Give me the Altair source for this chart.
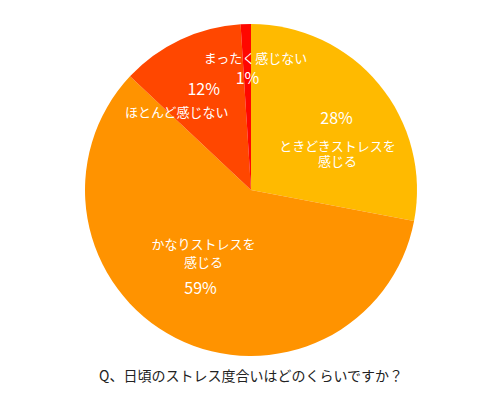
import pandas as pd
import altair as alt

# answers, clockwise from 12 o'clock
CATEGORIES = ["ときどきストレスを感じる", "かなりストレスを感じる", "ほとんど感じない", "まったく感じない"]
VALUES = [28, 59, 12, 1]
COLORS = ["#FFBA00", "#FF9300", "#FF4700", "#FF0800"]
TITLE = "Q、日頃のストレス度合いはどのくらいですか？"
FONT = "Noto Sans CJK JP"

df = pd.DataFrame({
    "cat": CATEGORIES,
    "value": VALUES,
    "idx": list(range(len(CATEGORIES))),
})
df["pct"] = df["value"].astype(str) + "%"

# start/end/mid of every slice as a fraction of the whole
base = (
    alt.Chart(df)
    .transform_joinaggregate(total="sum(value)")
    .transform_window(cum="sum(value)", sort=[{"field": "idx"}])
    .transform_calculate(
        end_f="datum.cum / datum.total",
        start_f="(datum.cum - datum.value) / datum.total",
        mid_f="(datum.cum - datum.value / 2) / datum.total",
    )
)
theta_scale = alt.Scale(domain=[0, 1], range=[0, 6.283185307])

pie = base.mark_arc(outerRadius=166).encode(
    theta=alt.Theta("start_f:Q", scale=theta_scale),
    theta2="end_f:Q",
    color=alt.Color("cat:N", scale=alt.Scale(domain=CATEGORIES, range=COLORS), legend=None),
)

# percent labels sit at the middle angle of each slice
pct = base.mark_text(radius=111, font=FONT, fontSize=16, color="white").encode(
    theta=alt.Theta("mid_f:Q", scale=theta_scale),
    text="pct:N",
)


def cat_label(name, lines, dx, dy, line_height):
    # dy puts the first line, the rest follow below it
    return (
        base.transform_filter(alt.datum.cat == name)
        .transform_calculate(lbl="'" + "\\n".join(lines) + "'")
        .mark_text(radius=111, font=FONT, fontSize=13, color="white",
                   dx=dx, dy=dy, lineBreak="\n", lineHeight=line_height)
        .encode(theta=alt.Theta("mid_f:Q", scale=theta_scale), text="lbl:N")
    )


labels = [
    cat_label(CATEGORIES[0], ["ときどきストレスを", "感じる"], 1, 28, 15),
    cat_label(CATEGORIES[1], ["かなりストレスを", "感じる"], 3, -44, 18),
    cat_label(CATEGORIES[2], ["ほとんど感じない"], -27, 23, 15),
    cat_label(CATEGORIES[3], ["まったく感じない"], 8, -20, 15),
]

chart = alt.layer(pie, pct, *labels).properties(
    width=486,
    height=364,
    padding=0,
    title=alt.TitleParams(TITLE, orient="bottom", offset=-2, font=FONT, fontSize=14,
                          fontWeight="normal", color="#222222"),
).configure_view(stroke=None)

chart.save("out.html", embed_options={"renderer": "svg", "actions": False})
